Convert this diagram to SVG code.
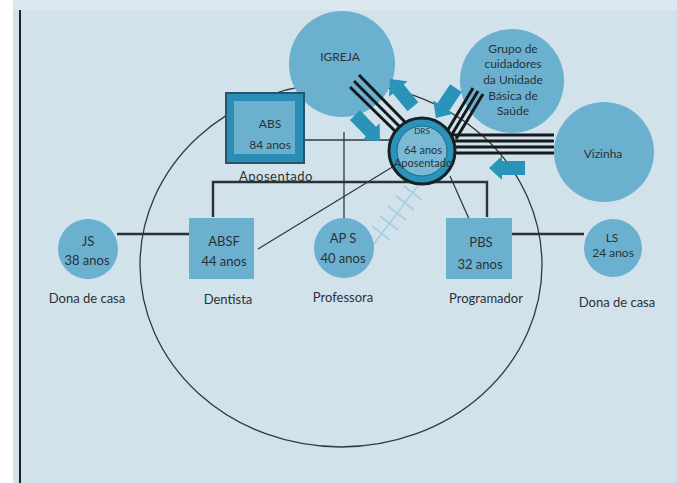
<svg xmlns="http://www.w3.org/2000/svg" xmlns:xlink="http://www.w3.org/1999/xlink" width="677" height="483" viewBox="0 0 677 483">
<defs>
<style>
.t{font-family:Lato,"Liberation Sans",sans-serif;fill:#2a3238;text-anchor:middle}
.s13{font-size:13px}
.s12{font-size:12px}
.node{fill:#6cb0cf}
.thin{stroke:#2f3a40;stroke-width:1.3;fill:none}
.fam{stroke:#2a3236;stroke-width:2.4;fill:none}
.strong{stroke:#151a1d;stroke-width:3;fill:none}
.arr{fill:#2a93ba}
.conf{stroke:#a6cfe1;stroke-width:1.6;fill:none}
</style>
<polygon id="blk" points="-36,-7 -13,-7 -13,-12 0,0 -13,12 -13,7 -36,7"/>
</defs>
<rect x="0" y="0" width="677" height="483" fill="#ffffff"/>
<rect x="13" y="0" width="664" height="483" fill="#d1e2eb"/>
<rect x="13" y="0" width="664" height="10" fill="#dbe8ef"/>
<line x1="20" y1="10" x2="20" y2="483" stroke="#222" stroke-width="2"/>

<g id="boundary">
<ellipse cx="341" cy="265" rx="201" ry="182" fill="none" stroke="#2f3a40" stroke-width="1.3"/>
</g>

<g id="connectors">
<line class="thin" x1="305" y1="140" x2="392" y2="140"/>
<line class="thin" x1="344" y1="132" x2="344" y2="218"/>
<polyline class="fam" points="213,217 213,182 487,182 487,217"/>
<line class="fam" x1="117" y1="234" x2="190" y2="234"/>
<line class="fam" x1="509" y1="234" x2="584" y2="234"/>
<line class="thin" x1="258" y1="249" x2="394" y2="166"/>
<line class="thin" x1="450" y1="176" x2="477" y2="237"/>
<g id="conflict">
<line class="conf" x1="420" y1="183" x2="373" y2="245"/>
<line class="conf" x1="404" y1="186" x2="422" y2="200"/>
<line class="conf" x1="396" y1="196" x2="414" y2="210"/>
<line class="conf" x1="388" y1="206" x2="406" y2="220"/>
<line class="conf" x1="380" y1="216" x2="398" y2="230"/>
<line class="conf" x1="372" y1="226" x2="390" y2="240"/>
</g>
</g>

<g id="igreja">
<circle class="node" cx="342" cy="64" r="53"/>
<text class="t s12" x="340" y="61">IGREJA</text>
</g>
<g id="grupo">
<circle class="node" cx="512" cy="81" r="52"/>
<text class="t s12" x="513" y="53">Grupo de</text>
<text class="t s12" x="513" y="68">cuidadores</text>
<text class="t s12" x="513" y="84">da Unidade</text>
<text class="t s12" x="513" y="100">Básica de</text>
<text class="t s12" x="513" y="115">Saúde</text>
</g>
<g id="vizinha">
<circle class="node" cx="604" cy="152" r="50"/>
<text class="t s12" x="603" y="158">Vizinha</text>
</g>

<g id="strong-ties">
<line class="strong" x1="359" y1="75" x2="405" y2="122"/>
<line class="strong" x1="354" y1="81" x2="400" y2="127"/>
<line class="strong" x1="350" y1="87" x2="396" y2="132"/>
<line class="strong" x1="473" y1="88" x2="446" y2="133"/>
<line class="strong" x1="478" y1="91" x2="451" y2="136"/>
<line class="strong" x1="483" y1="94" x2="456" y2="139"/>
<line class="strong" x1="452" y1="135" x2="554" y2="135"/>
<line class="strong" x1="452" y1="141" x2="554" y2="141"/>
<line class="strong" x1="452" y1="147" x2="554" y2="147"/>
<line class="strong" x1="452" y1="153" x2="554" y2="153"/>
</g>

<g id="arrows">
<use class="arr" xlink:href="#blk" transform="translate(380,141) rotate(46)"/>
<use class="arr" xlink:href="#blk" transform="translate(390,79) rotate(-129.6)"/>
<use class="arr" xlink:href="#blk" transform="translate(436,118) rotate(123.7)"/>
<use class="arr" xlink:href="#blk" transform="translate(489,168) rotate(180)"/>
</g>

<g id="drs">
<circle cx="422" cy="151" r="33" fill="#2a93ba" stroke="#172226" stroke-width="3"/>
<circle cx="422" cy="151" r="25" fill="#7bbad6" stroke="#1d6a88" stroke-width="1"/>
<text class="t" style="font-size:8px" x="422" y="134">DRS</text>
<text class="t" style="font-size:11px" x="423" y="154">64 anos</text>
<text class="t" style="font-size:11px" x="423" y="167">Aposentado</text>
</g>

<g id="abs">
<rect x="226" y="93" width="78" height="70" fill="#2b8db6" stroke="#25566c" stroke-width="2"/>
<rect x="234" y="101" width="61" height="53" fill="#6cb0cf"/>
<text class="t s12" x="270" y="128">ABS</text>
<text class="t s12" x="270" y="149">84 anos</text>
<text class="t s13" x="276" y="181" style="letter-spacing:0.5px">Aposentado</text>
</g>

<g id="js">
<circle class="node" cx="88" cy="249" r="30"/>
<text class="t s13" x="88" y="246">JS</text>
<text class="t s13" x="87" y="265">38 anos</text>
<text class="t s13" x="87" y="303">Dona de casa</text>
</g>

<g id="absf">
<rect class="node" x="189" y="218" width="65" height="61"/>
<text class="t s13" x="224" y="246">ABSF</text>
<text class="t s13" x="224" y="266">44 anos</text>
<text class="t s13" x="228" y="304">Dentista</text>
</g>

<g id="aps">
<circle class="node" cx="344" cy="248" r="30"/>
<text class="t s13" x="343" y="243">AP S</text>
<text class="t s13" x="343" y="263">40 anos</text>
<text class="t s13" x="343" y="302">Professora</text>
</g>

<g id="pbs">
<rect class="node" x="446" y="218" width="66" height="61"/>
<text class="t s13" x="481" y="247">PBS</text>
<text class="t s13" x="480" y="269">32 anos</text>
<text class="t s13" x="486" y="303">Programador</text>
</g>

<g id="ls">
<circle class="node" cx="613" cy="248" r="29"/>
<text class="t s12" x="612" y="242">LS</text>
<text class="t s12" x="613" y="257">24 anos</text>
<text class="t s13" x="617" y="307">Dona de casa</text>
</g>
</svg>
